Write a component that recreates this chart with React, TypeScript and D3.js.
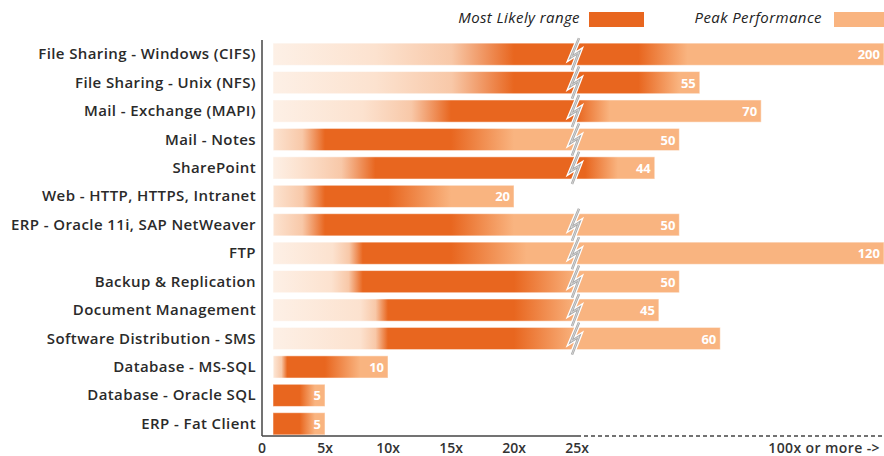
import * as d3 from "d3";

// categories, top to bottom
const categories = [
  "File Sharing - Windows (CIFS)",
  "File Sharing - Unix (NFS)",
  "Mail - Exchange (MAPI)",
  "Mail - Notes",
  "SharePoint",
  "Web - HTTP, HTTPS, Intranet",
  "ERP - Oracle 11i, SAP NetWeaver",
  "FTP",
  "Backup & Replication",
  "Document Management",
  "Software Distribution - SMS",
  "Database - MS-SQL",
  "Database - Oracle SQL",
  "ERP - Fat Client",
];
// where the pale start begins to darken
const fadeIn = [9, 9, 8, 1, 3, 1, 1, 5.6, 5.5, 7.8, 7.8, 1, 0.9, 0.9];
// most likely range (low / high)
const likelyLow = [20, 20, 15, 5, 9, 5, 5, 8, 8, 10, 10, 2, 0.9, 0.9];
const likelyHigh = [40, 40, 25, 15, 27, 10, 15, 15, 20, 20, 20, 5, 3, 3];
// where the colour has reached peak tone
const fadeOut = [52, 50, 33, 20, 35, 15, 20, 21, 25, 25, 25, 7.8, 4.2, 4.2];
// peak performance
const peak = [200, 55, 70, 50, 44, 20, 50, 120, 50, 45, 60, 10, 5, 5];

const ticks = [0, 5, 10, 15, 20, 25];
const tickLabels = ["0", "5x", "10x", "15x", "20x", "25x"];

const W = 884;
const H = 456;
const DARK = "#E8661F";
const PEAK = "#F9B480";
const LIGHT = "#FDF0E6";
const LIGHT2 = "#FCE2CF";
const FONT = "'Open Sans', 'Noto Sans', sans-serif";

export default function App() {
  const x = d3.scaleLinear().domain([0, 25, 100]).range([262, 577, 884]).clamp(true);
  const y = d3
    .scaleBand<string>()
    .domain(categories)
    .range([40, 438])
    .paddingInner(0.22)
    .paddingOuter(0.11);
  const barStart = x(0) + 11;
  const axisY = 436;

  return (
    <svg
      width={W}
      height={H}
      style={{ position: "absolute", left: 0, top: 0, background: "#fff" }}
      fontFamily={FONT}
    >
      <defs>
        {categories.map((c, i) => {
          const x1 = barStart;
          const x2 = x(peak[i]);
          const off = (v: number) => {
            const p = (Math.max(x(v), x1) - x1) / (x2 - x1);
            return Math.min(1, Math.max(0, p));
          };
          const a = off(fadeIn[i]);
          const b = off(likelyLow[i]);
          const mid = a + (b - a) * 0.55;
          const hcol = off(likelyHigh[i]);
          const fo = off(fadeOut[i]);
          return (
            <linearGradient
              key={c}
              id={`g${i}`}
              gradientUnits="userSpaceOnUse"
              x1={x1}
              x2={x2}
              y1={0}
              y2={0}
            >
              <stop offset={0} stopColor={LIGHT} />
              <stop offset={a} stopColor={b > a ? LIGHT2 : DARK} />
              <stop offset={mid} stopColor={b > a ? "#F8C8A8" : DARK} />
              <stop offset={b} stopColor={DARK} />
              <stop offset={hcol} stopColor={DARK} />
              <stop offset={fo} stopColor={PEAK} />
              <stop offset={1} stopColor={PEAK} />
            </linearGradient>
          );
        })}
      </defs>

      {/* legend */}
      <text
        x={580}
        y={23}
        textAnchor="end"
        fontSize={15}
        fontStyle="italic"
        letterSpacing={0.4}
        fill="#222"
      >
        Most Likely range
      </text>
      <rect x={589} y={12} width={55} height={15} fill={DARK} />
      <text
        x={822}
        y={23}
        textAnchor="end"
        fontSize={15}
        fontStyle="italic"
        letterSpacing={0.4}
        fill="#222"
      >
        Peak Performance
      </text>
      <rect x={834} y={12} width={55} height={15} fill={PEAK} />

      {/* bars */}
      {categories.map((c, i) => {
        const top = y(c)!;
        const bw = y.bandwidth();
        const end = x(peak[i]);
        return (
          <g key={c}>
            <rect
              x={barStart}
              y={top}
              width={end - barStart}
              height={bw}
              fill={`url(#g${i})`}
              stroke="#fff"
              strokeOpacity={0.5}
              strokeWidth={1}
            />
            <text
              x={256}
              y={top + bw / 2 + 5}
              textAnchor="end"
              fontSize={15}
              fontWeight={600}
              letterSpacing={0.4}
              fill="#2a2a2a"
            >
              {c}
            </text>
            <text
              x={end - 4}
              y={top + bw / 2 + 5}
              textAnchor="end"
              fontSize={13}
              fontWeight={700}
              fill="#fff"
            >
              {peak[i]}
            </text>
          </g>
        );
      })}

      {/* break marks */}
      {categories.map((c, i) => {
        if (peak[i] <= 25) return null;
        const top = y(c)!;
        const bw = y.bandwidth();
        const cx = x(25) - 2;
        const cy = top + bw / 2;
        const pts: [number, number][] = [
          [cx + 4, top - 5],
          [cx - 4, cy + 3],
          [cx + 4, cy - 2],
          [cx - 3, top + bw + 5],
        ];
        const line = d3.line()(pts)!;
        return (
          <g key={`b${c}`} fill="none" strokeLinejoin="miter">
            <path d={line} stroke="#fff" strokeWidth={5} />
            <path d={line} stroke="#A9A9A9" strokeWidth={2.5} />
            <path d={line} stroke="#DDD" strokeWidth={0.8} />
          </g>
        );
      })}

      {/* axes */}
      <line x1={262} x2={262} y1={40} y2={axisY} stroke="#444" strokeWidth={1.5} />
      <line x1={262} x2={x(25)} y1={axisY} y2={axisY} stroke="#444" strokeWidth={1.5} />
      <line
        x1={x(25)}
        x2={W}
        y1={axisY}
        y2={axisY}
        stroke="#444"
        strokeWidth={1.5}
        strokeDasharray="4,3"
      />
      {ticks.map((t, i) => (
        <text
          key={t}
          x={x(t)}
          y={453}
          textAnchor="middle"
          fontSize={14}
          fontWeight={600}
          fill="#333"
        >
          {tickLabels[i]}
        </text>
      ))}
      <text x={880} y={453} textAnchor="end" fontSize={14} fontWeight={600} letterSpacing={0.4} fill="#333">
        {"100x or more ->"}
      </text>
    </svg>
  );
}
